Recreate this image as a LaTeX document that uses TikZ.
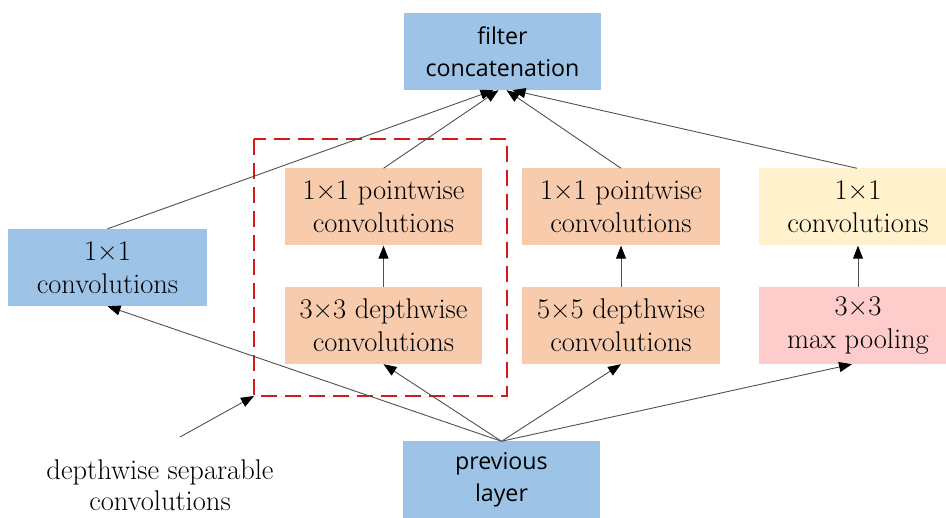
\documentclass[tikz,border=0pt]{standalone}
\usepackage{fontspec}
\newfontfamily\boxsans{Open Sans}
\usetikzlibrary{arrows.meta}
\definecolor{bluebox}{HTML}{9DC3E6}
\definecolor{orangebox}{HTML}{F8CBAD}
\definecolor{yellowbox}{HTML}{FFF2CC}
\definecolor{pinkbox}{HTML}{FFCCCC}
\definecolor{dashred}{HTML}{D01C1C}
\definecolor{linegrey}{HTML}{505050}
\begin{document}
\begin{tikzpicture}[x=1pt,y=-1pt,
  box/.style={rectangle, inner sep=0pt, align=center, minimum width=197pt, minimum height=77pt,
    font=\rmfamily\fontsize{28.5}{33}\selectfont, text=black},
  sbox/.style={box, fill=bluebox, font=\boxsans\fontsize{23.2}{32}\selectfont},
  conn/.style={draw=linegrey, line width=0.9pt, -{Triangle[length=13pt,width=10pt,color=black]}},
  groupbox/.style={draw=dashred, line width=2.4pt, dash pattern=on 16pt off 8pt}
]
\useasboundingbox (0,0) rectangle (946,518);

\node[sbox] (fc) at (502.5,51.5) {filter\\concatenation};
\node[box, fill=bluebox, minimum width=199pt] (lconv) at (107.5,267.5) {1×1\\convolutions};
\node[box, fill=orangebox] (pw1) at (383.5,207) {1×1 pointwise\\convolutions};
\node[box, fill=orangebox] (dw3) at (383.5,325.5) {3×3 depthwise\\convolutions};
\node[box, fill=orangebox, minimum width=198pt] (pw2) at (621,207) {1×1 pointwise\\convolutions};
\node[box, fill=orangebox, minimum width=198pt] (dw5) at (621,325.5) {5×5 depthwise\\convolutions};
\node[box, fill=yellowbox, minimum width=198pt] (c1) at (858,207) {1×1\\convolutions};
\node[box, fill=pinkbox, minimum width=198pt] (mp) at (858,325.5) {3×3\\max pooling};
\node[sbox] (prev) at (501.5,480) {previous\\layer};

\draw[groupbox] (254,139) rectangle (507,396);
\coordinate (gcorner) at (254,396);

\node[align=center, font=\rmfamily\fontsize{28.5}{31}\selectfont] (lbl) at (160,485) {depthwise separable\\convolutions};
\coordinate (lblstart) at (180,437);
\draw[conn] (lblstart) -- (gcorner);

% bottom-up
\draw[conn] (prev.north) -- (lconv.south);
\draw[conn] (prev.north) -- (dw3.south);
\draw[conn] (prev.north) -- (dw5.south);
\draw[conn] (prev.north) -- ([xshift=-6pt]mp.south);

% inner
\draw[conn] (dw3.north) -- (pw1.south);
\draw[conn] (dw5.north) -- (pw2.south);
\draw[conn] (mp.north) -- (c1.south);

% to concatenation
\draw[conn] (lconv.north) -- ([xshift=-9pt]fc.south);
\draw[conn] (pw1.north) -- ([xshift=-4pt]fc.south);
\draw[conn] (pw2.north) -- ([xshift=4pt]fc.south);
\draw[conn] ([xshift=-1pt]c1.north) -- ([xshift=10pt]fc.south);
\end{tikzpicture}
\end{document}
